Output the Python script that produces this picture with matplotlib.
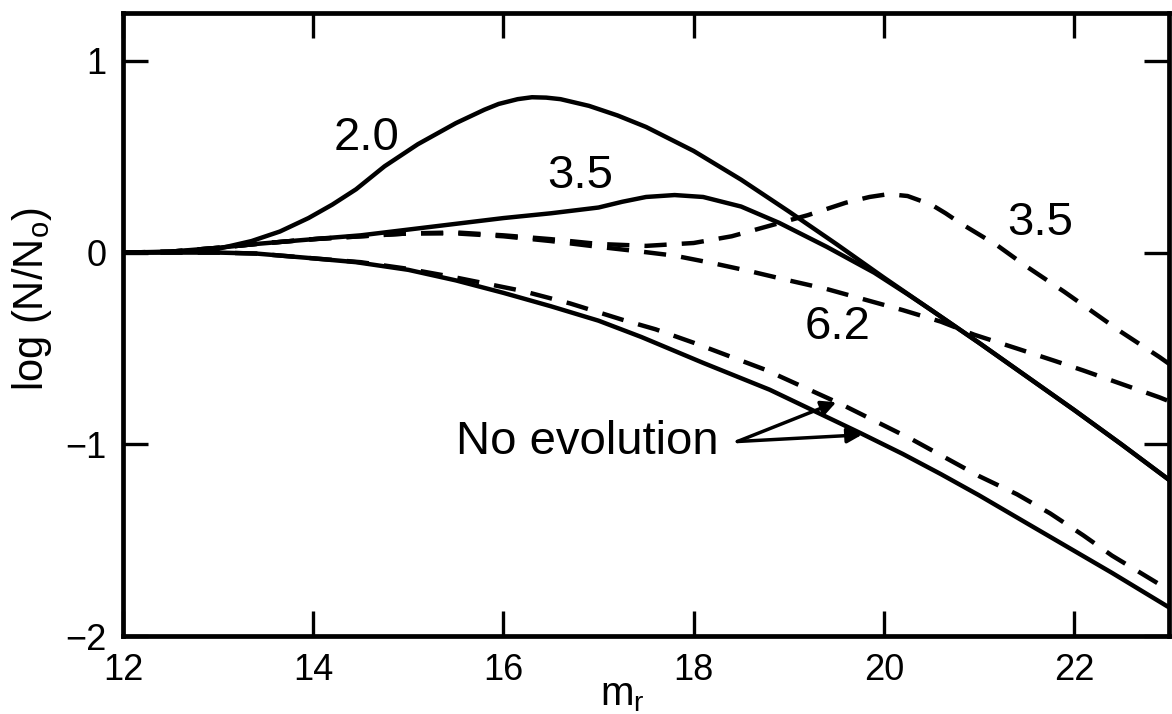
import matplotlib

matplotlib.use("Agg")
from matplotlib import pyplot as plt

plt.rcParams["font.family"] = ["Liberation Sans", "DejaVu Sans"]
plt.rcParams["mathtext.default"] = "regular"

# magnitude grids and log(N/N0) values
m_20 = [12.0, 12.5, 13.0, 13.35, 13.65, 13.95, 14.2, 14.45, 14.75, 15.1, 15.5, 15.8, 15.95,
        16.15, 16.3, 16.45, 16.6, 16.9, 17.2, 17.5, 18.0, 18.5, 19.0, 19.5, 20.0, 20.5, 21.0,
        21.5, 22.0, 22.5, 23.0]
y_20 = [0.0, 0.003, 0.02, 0.06, 0.11, 0.18, 0.25, 0.33, 0.45, 0.565, 0.675, 0.745, 0.775,
        0.80, 0.81, 0.808, 0.80, 0.765, 0.715, 0.655, 0.53, 0.38, 0.215, 0.045, -0.13, -0.3,
        -0.47, -0.645, -0.82, -1.0, -1.185]

m_35 = [12.0, 12.5, 13.0, 13.4, 14.0, 14.5, 15.0, 15.5, 16.0, 16.5, 17.0, 17.25, 17.5, 17.8,
        18.1, 18.5, 18.9, 19.4, 19.9, 20.25, 20.5, 21.0, 21.5, 22.0, 22.5, 23.0]
y_35 = [0.0, 0.005, 0.025, 0.045, 0.07, 0.09, 0.12, 0.15, 0.18, 0.205, 0.235, 0.265, 0.29,
        0.30, 0.29, 0.24, 0.155, 0.03, -0.105, -0.217, -0.3, -0.47, -0.645, -0.82, -1.0,
        -1.185]

m_35d = [12.0, 12.5, 13.0, 13.4, 14.0, 14.5, 15.0, 15.5, 16.0, 16.5, 17.0, 17.5, 18.0, 18.4,
         18.8, 19.2, 19.6, 19.85, 20.05, 20.25, 20.5, 20.65, 20.8, 21.2, 21.5, 21.9, 22.2,
         22.5, 22.9, 23.0]
y_35d = [0.0, 0.005, 0.025, 0.045, 0.07, 0.085, 0.10, 0.105, 0.09, 0.07, 0.045, 0.035, 0.05,
         0.085, 0.14, 0.195, 0.26, 0.29, 0.305, 0.295, 0.25, 0.205, 0.155, 0.035, -0.072,
         -0.205, -0.31, -0.415, -0.545, -0.58]

m_62d = [12.0, 12.5, 13.0, 13.4, 14.0, 14.5, 15.0, 15.5, 16.0, 16.5, 17.0, 17.45, 17.8, 18.2,
         18.6, 19.0, 19.4, 19.8, 20.2, 20.6, 20.95, 21.4, 21.8, 22.1, 22.5, 22.9, 23.0]
y_62d = [0.0, 0.005, 0.025, 0.045, 0.07, 0.085, 0.10, 0.10, 0.085, 0.06, 0.03, 0.005,
         -0.016, -0.055, -0.098, -0.145, -0.19, -0.245, -0.30, -0.36, -0.428, -0.50, -0.565,
         -0.615, -0.685, -0.755, -0.775]

m_ne = [12.0, 12.5, 13.0, 13.4, 14.0, 14.45, 15.0, 15.5, 16.0, 16.5, 17.0, 17.45, 18.1, 18.8,
        19.75, 20.2, 20.6, 21.0, 21.5, 22.4, 23.0]
y_ne = [0.0, 0.0, 0.0, -0.005, -0.03, -0.05, -0.09, -0.145, -0.21, -0.28, -0.355, -0.44,
        -0.575, -0.715, -0.94, -1.05, -1.155, -1.265, -1.41, -1.67, -1.85]

m_ned = [12.0, 12.5, 13.0, 13.4, 14.0, 14.5, 15.0, 15.5, 16.2, 16.7, 17.25, 17.6, 18.0, 18.75,
         19.55, 20.3, 21.0, 21.4, 21.75, 22.1, 22.4, 22.8, 23.0]
y_ned = [0.0, 0.0, 0.0, -0.005, -0.03, -0.05, -0.085, -0.13, -0.2, -0.265, -0.35, -0.40,
         -0.47, -0.61, -0.79, -0.975, -1.165, -1.26, -1.36, -1.475, -1.58, -1.70, -1.76]

x_ticks = [12, 14, 16, 18, 20, 22]
y_ticks = [-2, -1, 0, 1]

fig = plt.figure(figsize=(11.72, 7.14), dpi=100)
ax = fig.add_axes([0.105, 0.109, 0.8925, 0.873])

lw = 3.2
dash = (0, (5.0, 3.4))
ax.plot(m_20, y_20, color="black", lw=lw)
ax.plot(m_35, y_35, color="black", lw=lw)
ax.plot(m_ne, y_ne, color="black", lw=lw)
ax.plot(m_35d, y_35d, color="black", lw=lw, linestyle=dash)
ax.plot(m_62d, y_62d, color="black", lw=lw, linestyle=dash)
ax.plot(m_ned, y_ned, color="black", lw=lw, linestyle=dash)

label_size = 34
ax.text(14.56, 0.60, "2.0", fontsize=label_size, ha="center", va="center")
ax.text(16.81, 0.40, "3.5", fontsize=label_size, ha="center", va="center")
ax.text(21.65, 0.154, "3.5", fontsize=label_size, ha="center", va="center")
ax.text(19.51, -0.39, "6.2", fontsize=label_size, ha="center", va="center")
ax.text(18.26, -0.99, "No evolution", fontsize=label_size, ha="right", va="center")

arrow = dict(arrowstyle="-|>", color="black", lw=2.5, mutation_scale=22, shrinkA=0, shrinkB=0)
ax.annotate("", xy=(19.5, -0.78), xytext=(18.46, -0.985), arrowprops=arrow)
ax.annotate("", xy=(19.77, -0.95), xytext=(18.46, -0.985), arrowprops=arrow)

ax.set_xlim(12, 23)
ax.set_ylim(-2, 1.25)
ax.set_xticks(x_ticks)
ax.set_yticks(y_ticks)
ax.tick_params(direction="in", length=18, width=2.4, top=True, right=True,
               labelsize=26, pad=12)
for s in ax.spines.values():
    s.set_linewidth(3.4)

ax.set_xlabel("m$_r$", fontsize=29)
ax.set_ylabel("log (N/N$_o$)", fontsize=30)
ax.xaxis.set_label_coords(0.477, -0.064)
ax.yaxis.set_label_coords(-0.066, 0.54)

fig.savefig("out.png", dpi=100)
